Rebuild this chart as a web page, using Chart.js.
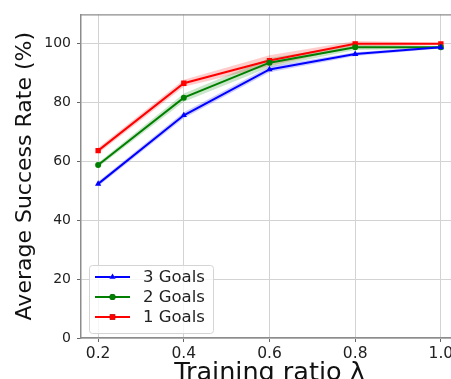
<!DOCTYPE html>
<html>
<head>
<meta charset="utf-8">
<script src="https://cdn.jsdelivr.net/npm/chart.js@4.4.1/dist/chart.umd.min.js"></script>
<style>
  html, body { margin: 0; padding: 0; overflow: hidden; background: #fff; }
  canvas { display: block; }
</style>
</head>
<body>
<canvas id="c" width="460" height="379"></canvas>
<script>
// Training ratio values on the x axis
const ratios = [0.2, 0.4, 0.6, 0.8, 1.0];
const xTicks = [0.2, 0.4, 0.6, 0.8, 1.0];
const yTicks = [0, 20, 40, 60, 80, 100];

// Mean success rate (%) per number of goals, with the half-width of the shaded band
const goals3 = [52.4, 75.7, 91.3, 96.5, 98.8];
const goals3Spread = [0.8, 1.0, 1.0, 0.6, 0.4];
const goals2 = [58.8, 81.7, 93.6, 98.8, 98.8];
const goals2Spread = [0.8, 1.4, 1.6, 0.9, 0.5];
const goals1 = [63.7, 86.6, 94.3, 100.0, 100.0];
const goals1Spread = [1.0, 1.2, 1.8, 1.0, 0.4];

const seriesNames = ['3 Goals', '2 Goals', '1 Goals'];

Chart.defaults.font.family = "'DejaVu Sans', sans-serif";

function pts(vals) { return ratios.map((x, i) => ({ x, y: vals[i] })); }

function seriesSets(label, mean, spread, color, band, style, radius) {
  return [
    { data: pts(mean.map((v, i) => v - spread[i])), borderWidth: 0, pointRadius: 0,
      fill: false, backgroundColor: band, borderColor: 'transparent', order: 3 },
    { data: pts(mean.map((v, i) => v + spread[i])), borderWidth: 0, pointRadius: 0,
      fill: '-1', backgroundColor: band, borderColor: 'transparent', order: 3 },
    { label, showInLegend: true, data: pts(mean), borderColor: color, backgroundColor: color,
      borderWidth: 2, pointStyle: style, pointRadius: radius, pointBorderWidth: 0,
      fill: false, order: 1 }
  ];
}

const datasets = [
  ...seriesSets(seriesNames[0], goals3, goals3Spread, '#0000ff', 'rgba(0,0,255,0.2)', 'triangle', 3.6),
  ...seriesSets(seriesNames[1], goals2, goals2Spread, '#008000', 'rgba(0,128,0,0.2)', 'circle', 3),
  ...seriesSets(seriesNames[2], goals1, goals1Spread, '#ff0000', 'rgba(255,0,0,0.2)', 'rect', 3.8)
];

// Legend box drawn inside the lower-left corner of the plot area
const insetLegend = {
  id: 'insetLegend',
  afterDraw(chart) {
    const { ctx, chartArea } = chart;
    const items = chart.data.datasets.filter(d => d.showInLegend);
    const rowH = 20, w = 124, h = 12 + rowH * (items.length - 1) + 16;
    const left = chartArea.left + 8, top = chartArea.bottom - 5 - h;
    ctx.save();
    ctx.beginPath();
    ctx.roundRect(left + 0.5, top + 0.5, w, h, 3);
    ctx.fillStyle = 'rgba(255,255,255,0.8)';
    ctx.fill();
    ctx.strokeStyle = '#d4d4d4';
    ctx.lineWidth = 1;
    ctx.stroke();
    items.forEach((d, i) => {
      const y = top + 12 + rowH * i;
      ctx.beginPath();
      ctx.moveTo(left + 6, y);
      ctx.lineTo(left + 41, y);
      ctx.strokeStyle = d.borderColor;
      ctx.lineWidth = 2;
      ctx.stroke();
      Chart.helpers.drawPoint(ctx, {
        pointStyle: d.pointStyle, radius: d.pointRadius, rotation: 0, borderWidth: 0
      }, left + 23.5, y);
      ctx.fillStyle = d.borderColor;
      ctx.fill();
      ctx.fillStyle = '#222';
      ctx.font = "16.5px 'DejaVu Sans'";
      ctx.textBaseline = 'middle';
      ctx.textAlign = 'left';
      ctx.fillText(d.label, left + 54, y + 1);
    });
    ctx.restore();
  }
};

// Top and right frame lines of the axes box
const frame = {
  id: 'frame',
  beforeDatasetsDraw(chart) {
    const { ctx, chartArea } = chart;
    ctx.save();
    ctx.strokeStyle = '#8c8c8c';
    ctx.lineWidth = 1.2;
    ctx.beginPath();
    ctx.moveTo(chartArea.left, chartArea.top + 0.5);
    ctx.lineTo(chartArea.right, chartArea.top + 0.5);
    ctx.lineTo(chartArea.right, chartArea.bottom);
    ctx.stroke();
    ctx.restore();
  }
};

new Chart(document.getElementById('c'), {
  type: 'line',
  data: { datasets },
  options: {
    responsive: false,
    animation: false,
    layout: { autoPadding: false, padding: { top: 13, right: 2, left: 0, bottom: 0 } },
    plugins: { legend: { display: false }, tooltip: { enabled: false }, filler: { propagate: false } },
    elements: { line: { tension: 0 } },
    scales: {
      x: {
        type: 'linear', min: 0.16, max: 1.04,
        afterBuildTicks: s => { s.ticks = xTicks.map(v => ({ value: v })); },
        afterFit: s => { s.height = 41; },
        ticks: { callback: v => v.toFixed(1), color: '#222', font: { size: 15.5 }, padding: 3, maxRotation: 0 },
        grid: { color: '#d3d3d3', lineWidth: 1, tickLength: 4, tickColor: '#666' },
        border: { color: '#8c8c8c', width: 1.5 },
        title: { display: true, text: 'Training ratio λ', color: '#111', font: { size: 25.5, lineHeight: 0.45 }, padding: { top: 0, bottom: 0 } }
      },
      y: {
        min: 0, max: 110,
        afterBuildTicks: s => { s.ticks = yTicks.map(v => ({ value: v })); },
        afterFit: s => { s.width = 81; },
        ticks: { color: '#222', font: { size: 14 }, padding: 6 },
        grid: { color: '#d3d3d3', lineWidth: 1, tickLength: 4, tickColor: '#666' },
        border: { color: '#8c8c8c', width: 1.5 },
        title: { display: true, text: 'Average Success Rate (%)', color: '#111', font: { size: 22 }, padding: { top: 12, bottom: 0 } }
      }
    }
  },
  plugins: [frame, insetLegend]
});
</script>
</body>
</html>
